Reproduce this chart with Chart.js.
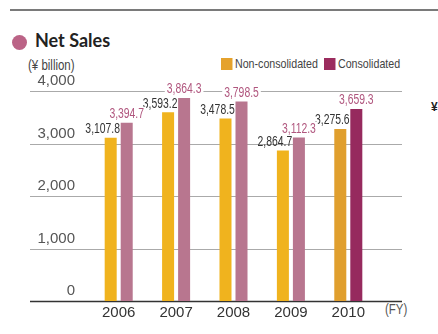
<!DOCTYPE html>
<html lang="en">
<head>
  <meta charset="UTF-8">
  <title>Net Sales</title>
  <script src="https://cdn.jsdelivr.net/npm/chart.js"></script>
  <style>
    body { margin: 0; background: #fff; width: 438px; height: 334px; overflow: hidden; position: relative; font-family: "Liberation Sans", Arial, sans-serif; }
    .rule { position: absolute; left: 10px; top: 9px; width: 428px; height: 2px; background: #7a7a7a; }
    .dot { position: absolute; left: 12px; top: 35px; width: 15px; height: 15px; border-radius: 50%; background: #bb6386; }
    .title { position: absolute; left: 35px; top: 29px; font: bold 18px Lato, "Noto Sans", sans-serif; color: #222; }
    .narrow { position: absolute; font-family: "Liberation Sans", Arial, sans-serif; color: #444; white-space: nowrap; transform: scaleX(0.82); transform-origin: 0 0; }
    .unit { left: 28px; top: 57px; font-size: 14px; }
    .legend { top: 57px; font-size: 13px; line-height: 14px; }
    .legend span.box { display: inline-block; width: 14px; height: 12px; vertical-align: -2px; margin-right: 3px; }
    .fy { left: 385px; top: 301px; font-size: 14px; color: #555; }
    .yen { left: 431px; top: 100px; font-size: 12px; color: #222; font-weight: bold; transform: none; }
    canvas { position: absolute; left: 0; top: 0; }
  </style>
</head>
<body>
  <div class="rule"></div>
  <div class="dot"></div>
  <div class="title">Net Sales</div>
  <div class="narrow unit">(¥ billion)</div>
  <div class="narrow legend" style="left:221px"><span class="box" style="background:#e5a22d"></span>Non-consolidated</div>
  <div class="narrow legend" style="left:324px"><span class="box" style="background:#9b2c5e"></span>Consolidated</div>
  <div class="narrow fy">(FY)</div>
  <div class="narrow yen">¥</div>
  <canvas id="salesChart" width="438" height="334"></canvas>

  <script>
    const years = ['2006', '2007', '2008', '2009', '2010'];
    const nonConsolidated = [3107.8, 3593.2, 3478.5, 2864.7, 3275.6];
    const consolidated = [3394.7, 3864.3, 3798.5, 3112.3, 3659.3];
    const yTicks = [0, 1000, 2000, 3000, 4000];

    // latest year is drawn in stronger shades
    const orangeColors = ['#f0b31e', '#f0b31e', '#f0b31e', '#f0b31e', '#e09f2e'];
    const pinkColors = ['#b8768f', '#b8768f', '#b8768f', '#b8768f', '#962a5e'];

    const fmt = v => v.toLocaleString('en-US', { minimumFractionDigits: 1, maximumFractionDigits: 1 });

    // horizontal rules run past the plot on both sides
    const gridLines = {
      id: 'gridLines',
      beforeDatasetsDraw(chart) {
        const ctx = chart.ctx;
        const y = chart.scales.y;
        ctx.save();
        yTicks.forEach(v => {
          const py = Math.round(y.getPixelForValue(v)) + 0.5;
          ctx.beginPath();
          ctx.strokeStyle = v === 0 ? '#333' : '#aaa';
          ctx.lineWidth = v === 0 ? 1.5 : 1;
          ctx.moveTo(30, py);
          ctx.lineTo(402, py);
          ctx.stroke();
        });
        ctx.restore();
      }
    };

    // value labels above each bar, squeezed type on a white patch
    const valueLabels = {
      id: 'valueLabels',
      afterDatasetsDraw(chart) {
        const ctx = chart.ctx;
        ctx.save();
        ctx.font = '15.5px "Liberation Sans", Arial, sans-serif';
        ctx.textAlign = 'center';
        ctx.textBaseline = 'middle';
        chart.data.datasets.forEach((ds, di) => {
          chart.getDatasetMeta(di).data.forEach((bar, i) => {
            const text = fmt(ds.data[i]);
            const cx = bar.x + (di === 0 ? -8 : 0);
            const cy = bar.y - 9;
            const sx = 0.67;
            const w = ctx.measureText(text).width * sx;
            if (di === 1) {
              ctx.fillStyle = '#fff';
              ctx.fillRect(cx - w / 2 - 2, cy - 7, w + 4, 14);
            }
            ctx.save();
            ctx.translate(cx, cy);
            ctx.scale(sx, 1);
            ctx.fillStyle = di === 0 ? '#333' : '#b0567e';
            ctx.fillText(text, 0, 0);
            ctx.restore();
          });
        });
        ctx.restore();
      }
    };

    new Chart(document.getElementById('salesChart'), {
      type: 'bar',
      data: {
        labels: years,
        datasets: [
          { label: 'Non-consolidated', data: nonConsolidated, backgroundColor: orangeColors },
          { label: 'Consolidated', data: consolidated, backgroundColor: pinkColors }
        ]
      },
      options: {
        responsive: false,
        animation: false,
        devicePixelRatio: 1,
        categoryPercentage: 0.558,
        barPercentage: 0.75,
        layout: { padding: { top: 91, right: 61, bottom: 9, left: 0 } },
        plugins: { legend: { display: false }, tooltip: { enabled: false } },
        scales: {
          x: {
            grid: { display: false, drawTicks: false },
            border: { display: false },
            ticks: { color: '#333', font: { family: '"Liberation Sans", Arial', size: 15 }, padding: 3 }
          },
          y: {
            min: 0,
            max: 4000,
            afterFit(scale) { scale.width = 90; },
            grid: { display: false, drawTicks: false },
            border: { display: false },
            ticks: {
              stepSize: 1000,
              padding: 15,
              labelOffset: -10,
              color: '#555',
              font: { family: '"Liberation Sans", Arial', size: 15 },
              callback: v => v.toLocaleString('en-US')
            }
          }
        }
      },
      plugins: [gridLines, valueLabels]
    });
  </script>
</body>
</html>
